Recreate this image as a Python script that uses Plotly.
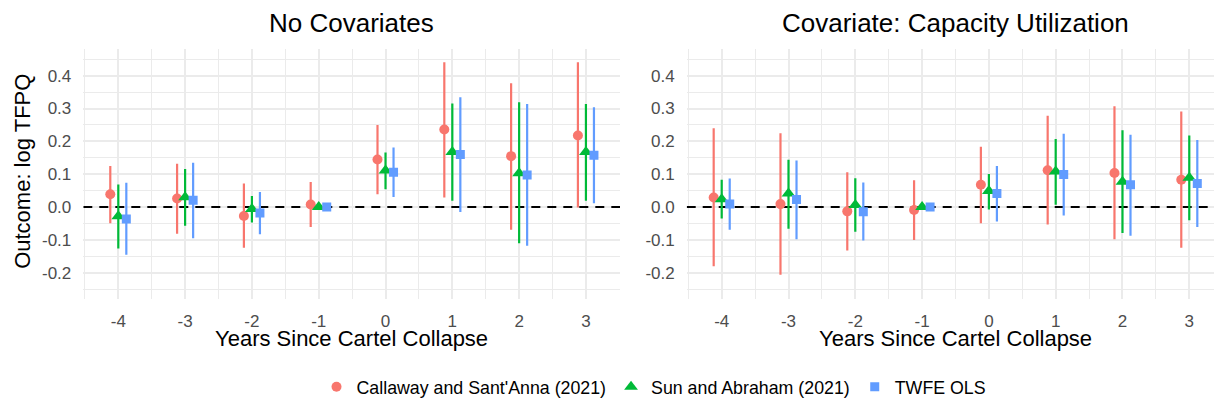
import plotly.graph_objects as go

# ---------------- data ----------------
periods = [-4, -3, -2, -1, 0, 1, 2, 3]
x_tick_labels = ["-4", "-3", "-2", "-1", "0", "1", "2", "3"]
y_tick_vals = [-0.2, -0.1, 0.0, 0.1, 0.2, 0.3, 0.4]
y_tick_labels = ["-0.2", "-0.1", "0.0", "0.1", "0.2", "0.3", "0.4"]

series_names = ["Callaway and Sant'Anna (2021)", "Sun and Abraham (2021)", "TWFE OLS"]
panel_titles = ["No Covariates", "Covariate: Capacity Utilization"]

# Panel 1: No Covariates
cs_est_1 = [0.039, 0.026, -0.027, 0.008, 0.145, 0.236, 0.155, 0.218]
cs_lo_1 = [-0.049, -0.081, -0.124, -0.061, 0.039, 0.029, -0.069, -0.001]
cs_hi_1 = [0.125, 0.132, 0.072, 0.076, 0.250, 0.441, 0.377, 0.441]

sa_est_1 = [-0.028, 0.030, -0.006, 0.000, 0.111, 0.168, 0.103, 0.168]
sa_lo_1 = [-0.126, -0.057, -0.047, 0.000, 0.054, 0.019, -0.110, 0.019]
sa_hi_1 = [0.069, 0.116, 0.034, 0.000, 0.166, 0.315, 0.319, 0.314]

tw_est_1 = [-0.036, 0.021, -0.018, 0.000, 0.106, 0.160, 0.098, 0.158]
tw_lo_1 = [-0.145, -0.095, -0.083, 0.000, 0.031, -0.015, -0.118, 0.012]
tw_hi_1 = [0.074, 0.135, 0.046, 0.000, 0.181, 0.334, 0.314, 0.304]

# Panel 2: Covariate: Capacity Utilization
cs_est_2 = [0.029, 0.009, -0.013, -0.009, 0.068, 0.112, 0.104, 0.083]
cs_lo_2 = [-0.180, -0.206, -0.132, -0.100, -0.049, -0.053, -0.098, -0.124]
cs_hi_2 = [0.240, 0.225, 0.106, 0.082, 0.184, 0.278, 0.307, 0.291]

sa_est_2 = [0.024, 0.041, 0.006, 0.000, 0.049, 0.108, 0.077, 0.089]
sa_lo_2 = [-0.035, -0.066, -0.075, 0.000, -0.007, 0.007, -0.079, -0.040]
sa_hi_2 = [0.083, 0.144, 0.088, 0.000, 0.101, 0.207, 0.234, 0.218]

tw_est_2 = [0.009, 0.023, -0.014, 0.000, 0.041, 0.099, 0.068, 0.072]
tw_lo_2 = [-0.069, -0.098, -0.102, 0.000, -0.044, -0.026, -0.087, -0.061]
tw_hi_2 = [0.087, 0.142, 0.075, 0.000, 0.125, 0.223, 0.220, 0.204]

reference_level = 0.0

# ---------------- style ----------------
colors = ["#F8766D", "#00BA38", "#619CFF"]
symbols = ["circle", "triangle-up", "square"]
msizes = [10, 12, 9]
dodge = [-0.12, 0.0, 0.12]
FONT = "Liberation Sans, Arial, Helvetica, sans-serif"
W, H = 1214, 406

x_ranges = [[-4.524, 3.51], [-4.524, 3.37]]
y_range = [-0.2806, 0.480]

panels = [
    [(cs_est_1, cs_lo_1, cs_hi_1), (sa_est_1, sa_lo_1, sa_hi_1), (tw_est_1, tw_lo_1, tw_hi_1)],
    [(cs_est_2, cs_lo_2, cs_hi_2), (sa_est_2, sa_lo_2, sa_hi_2), (tw_est_2, tw_lo_2, tw_hi_2)],
]

fig = go.Figure()
for p, panel in enumerate(panels):
    xa = "x" if p == 0 else "x2"
    ya = "y" if p == 0 else "y2"
    # dashed reference line across the panel (drawn first, under the estimates)
    fig.add_trace(go.Scatter(
        x=x_ranges[p], y=[reference_level, reference_level], mode="lines",
        line=dict(color="black", width=2, dash="9px,7px"),
        showlegend=False, hoverinfo="skip", xaxis=xa, yaxis=ya,
    ))
    for s, (est, lo, hi) in enumerate(panel):
        fig.add_trace(go.Scatter(
            x=[t + dodge[s] for t in periods],
            y=est,
            mode="markers",
            name=series_names[s],
            legendgroup=series_names[s],
            showlegend=(p == 0),
            marker=dict(color=colors[s], symbol=symbols[s], size=msizes[s], line=dict(width=0)),
            error_y=dict(type="data", symmetric=False,
                         array=[h - e for h, e in zip(hi, est)],
                         arrayminus=[e - l for e, l in zip(est, lo)],
                         color=colors[s], thickness=2.2, width=0),
            xaxis=xa, yaxis=ya,
        ))

# pixel-based layout
def px_x(v):
    return v / W

def px_y(v):
    return 1 - v / H

left_dom = [px_x(83.3), px_x(620)]
right_dom = [px_x(686.7), 1.0]
y_dom = [px_y(303), px_y(50)]

grid_col = "#EBEBEB"
common_x = dict(
    tickmode="array", tickvals=periods, ticktext=x_tick_labels,
    showgrid=True, gridcolor=grid_col, gridwidth=1.6,
    minor=dict(dtick=0.5, tick0=0.5, showgrid=True, gridcolor=grid_col, gridwidth=0.9),
    zeroline=False, showline=False, ticks="",
    tickfont=dict(family=FONT, size=17, color="#4D4D4D"),
    ticklabelstandoff=10,
)
common_y = dict(
    tickmode="array", tickvals=y_tick_vals, ticktext=y_tick_labels,
    range=y_range,
    showgrid=True, gridcolor=grid_col, gridwidth=1.6,
    minor=dict(dtick=0.05, tick0=0.05, showgrid=True, gridcolor=grid_col, gridwidth=0.9),
    zeroline=False, showline=False, ticks="",
    tickfont=dict(family=FONT, size=17, color="#4D4D4D"),
    ticklabelstandoff=11,
)

fig.update_layout(
    width=W, height=H,
    margin=dict(l=0, r=0, t=0, b=0),
    paper_bgcolor="white", plot_bgcolor="white",
    font=dict(family=FONT, color="black"),
    xaxis=dict(domain=left_dom, range=x_ranges[0], anchor="y", **common_x),
    yaxis=dict(domain=y_dom, anchor="x", **common_y),
    xaxis2=dict(domain=right_dom, range=x_ranges[1], anchor="y2", **common_x),
    yaxis2=dict(domain=y_dom, anchor="x2", **common_y),
    legend=dict(orientation="h", x=px_x(654), xanchor="center", y=px_y(392), yanchor="middle",
                font=dict(family=FONT, size=17.8, color="black"), bgcolor="rgba(0,0,0,0)",
                itemwidth=30),
    showlegend=True,
)

# titles and axis titles as annotations (centered on full panels)
title_centers = [351, 955.7]
for i, c in enumerate(title_centers):
    fig.add_annotation(text=panel_titles[i], xref="paper", yref="paper",
                       x=px_x(c), y=px_y(23), xanchor="center", yanchor="middle",
                       showarrow=False, font=dict(family=FONT, size=26, color="black"))
    fig.add_annotation(text="Years Since Cartel Collapse", xref="paper", yref="paper",
                       x=px_x(c), y=px_y(343), xanchor="center", yanchor="middle",
                       showarrow=False, font=dict(family=FONT, size=22, color="black"))

fig.add_annotation(text="Outcome: log TFPQ", xref="paper", yref="paper",
                   x=px_x(23), y=px_y(174), xanchor="center", yanchor="middle",
                   textangle=-90, showarrow=False,
                   font=dict(family=FONT, size=22, color="black"))

fig.write_html("out.html", config={"displayModeBar": False},
               post_script="document.body.style.margin='0';document.body.style.padding='0';")
